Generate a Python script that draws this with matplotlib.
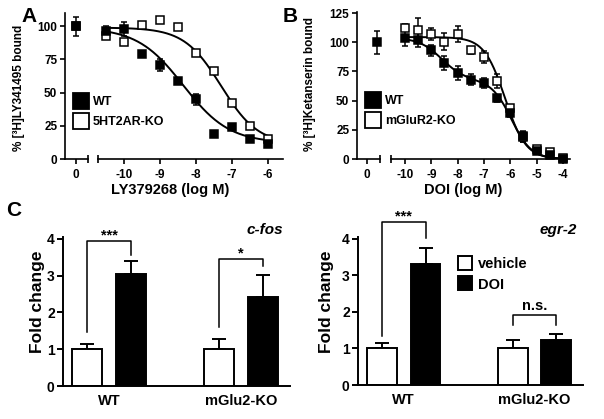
import matplotlib
matplotlib.use("Agg")
import matplotlib.pyplot as plt
from matplotlib.lines import Line2D
import numpy as np

plt.rcParams["font.family"] = ["Liberation Sans", "DejaVu Sans"]
plt.rcParams["font.weight"] = "bold"
plt.rcParams["axes.labelweight"] = "bold"
plt.rcParams["axes.unicode_minus"] = False
plt.rcParams["axes.linewidth"] = 1.2

# ---- panel A: LY379268 displacement of [3H]LY341495 ----
a_logc = [-10.5, -10, -9.5, -9, -8.5, -8, -7.5, -7, -6.5, -6]
a_wt = [96.5, 98, 79, 71, 58.5, 45, 19, 24, 15, 11]
a_wt_err = [4, 5, 0, 4.5, 0, 4, 0, 0, 0, 0]
a_ko = [93, 88, 101, 104.5, 99.5, 80, 66, 42, 25, 15]
a_zero_wt, a_zero_wt_err = 100, 7.3
a_zero_ko = 100
# 4-parameter fits: top, bottom, logIC50, hill
a_fit_wt = (99, 12, -8.35, 0.68)
a_fit_ko = (99, 11, -7.3, 0.85)

# ---- panel B: DOI displacement of [3H]Ketanserin ----
b_logc = [-10, -9.5, -9, -8.5, -8, -7.5, -7, -6.5, -6, -5.5, -5, -4.5, -4]
b_wt = [103.6, 101.6, 93, 82, 74, 68, 65, 52, 39.4, 19.4, 6.6, 3.4, 0]
b_wt_err = [7, 6, 5, 6, 6, 5, 4, 3, 3, 5, 2, 2, 2]
b_ko = [112.7, 110.7, 107, 100.7, 107, 93, 87.3, 66.5, 43.7, 18.8, 8.6, 5.7, 0.6]
b_ko_err = [3, 10, 5, 7, 7, 3, 5, 6, 3, 4, 2, 2, 2]
b_zero_wt, b_zero_wt_err = 100, 10
# KO: one-site fit; WT: two-site fit (top, bottom, frac_high, logIC_high, logIC_low, hill_low)
b_fit_ko = (104.5, 0, -6.2, 1.1)
b_fit_wt = (104, 0, 0.35, -8.6, -5.95, 1.15)

# ---- panel C: fold change ----
groups = ["WT", "mGlu2-KO"]
cfos_veh = [1.0, 1.0]
cfos_veh_err = [0.15, 0.28]
cfos_doi = [3.05, 2.42]
cfos_doi_err = [0.35, 0.6]
cfos_sig = ["***", "*"]
cfos_brk = [(1.48, 3.94, 3.57), (1.6, 3.45, 3.25)]

egr_veh = [1.0, 1.02]
egr_veh_err = [0.14, 0.2]
egr_doi = [3.3, 1.24]
egr_doi_err = [0.46, 0.16]
egr_sig = ["***", "n.s."]
egr_brk = [(1.33, 4.46, 4.03), (1.65, 1.92, 1.65)]

W, H = 604, 419
fig = plt.figure(figsize=(W / 100, H / 100), dpi=100)


def px_axes(x0, y0, x1, y1):
    return fig.add_axes([x0 / W, 1 - y1 / H, (x1 - x0) / W, (y1 - y0) / H])


def four_pl(x, top, bottom, logic, hill):
    return bottom + (top - bottom) / (1 + 10 ** ((x - logic) * hill))


def two_site(x, top, bottom, frac, ic1, ic2, hill2):
    s1 = frac / (1 + 10 ** (x - ic1))
    s2 = (1 - frac) / (1 + 10 ** ((x - ic2) * hill2))
    return bottom + (top - bottom) * (s1 + s2)


def style_ax(ax, left=True):
    for s in ["top", "right"]:
        ax.spines[s].set_visible(False)
    if not left:
        ax.spines["left"].set_visible(False)
        ax.tick_params(axis="y", left=False, labelleft=False)
    ax.tick_params(direction="out", width=1.2, length=3.5, labelsize=8.5, pad=2)
    ax.tick_params(axis="x", pad=4)


def end_bar(ax, xpos):
    ax.plot([xpos], [0], marker="|", ms=6, mew=1.2, color="black",
            transform=ax.get_xaxis_transform(), clip_on=False)


mk = dict(marker="s", ms=5.5, ls="none", color="black", mec="black", mew=1.1,
          capsize=2.5, elinewidth=1.1, capthick=1.1, clip_on=False, zorder=3)

# panel A
axa0 = px_axes(65, 13, 88, 159)
axa = px_axes(98, 13, 283, 159)
for ax in (axa0, axa):
    ax.set_ylim(0, 110)
style_ax(axa0)
style_ax(axa, left=False)
axa0.set_xlim(-1, 1.1)
axa0.set_xticks([0])
axa0.set_yticks([0, 25, 50, 75, 100])
end_bar(axa0, 1.1)
axa0.errorbar([0], [a_zero_ko], mfc="white", **mk)
axa0.errorbar([0], [a_zero_wt], yerr=[a_zero_wt_err], mfc="black", **mk)
axa.set_xlim(-10.72, -5.58)
axa.set_xticks([-10, -9, -8, -7, -6])
end_bar(axa, -10.72)
xa = np.linspace(-10.5, -6, 200)
axa.plot(xa, four_pl(xa, *a_fit_wt), color="black", lw=1.4)
axa.plot(xa, four_pl(xa, *a_fit_ko), color="black", lw=1.4)
axa.errorbar(a_logc, a_ko, mfc="white", **mk)
axa.errorbar(a_logc, a_wt, yerr=a_wt_err, mfc="black", **mk)

# panel B
axb0 = px_axes(357, 12, 380, 159)
axb = px_axes(391, 12, 570, 159)
for ax in (axb0, axb):
    ax.set_ylim(0, 126)
style_ax(axb0)
style_ax(axb, left=False)
axb0.set_xlim(-1, 1.3)
axb0.set_xticks([0])
axb0.set_yticks([0, 25, 50, 75, 100, 125])
end_bar(axb0, 1.3)
axb0.errorbar([1.0], [b_zero_wt], yerr=[b_zero_wt_err], mfc="black", **mk)
axb.set_xlim(-10.53, -3.73)
axb.set_xticks([-10, -9, -8, -7, -6, -5, -4])
end_bar(axb, -10.53)
xb = np.linspace(-10, -4, 200)
axb.plot(xb, two_site(xb, *b_fit_wt), color="black", lw=1.4)
axb.plot(xb, four_pl(xb, *b_fit_ko), color="black", lw=1.4)
axb.errorbar(b_logc, b_ko, yerr=b_ko_err, mfc="white", **mk)
axb.errorbar(b_logc, b_wt, yerr=b_wt_err, mfc="black", **mk)

fig.text(19 / W, 1 - 88 / H, "% [³H]LY341495 bound", rotation=90,
         ha="center", va="center", fontsize=8.5)
fig.text(310 / W, 1 - 84 / H, "% [³H]Ketanserin bound", rotation=90,
         ha="center", va="center", fontsize=8.5)
fig.text(170 / W, 1 - 190 / H, "LY379268 (log M)", ha="center", va="center", fontsize=10.5)
fig.text(463 / W, 1 - 190 / H, "DOI (log M)", ha="center", va="center", fontsize=10.5)

h_wt = Line2D([], [], marker="s", ls="none", ms=11, mfc="black", mec="black", mew=1.3)
h_ko = Line2D([], [], marker="s", ls="none", ms=11, mfc="white", mec="black", mew=1.3)
leg_kw = dict(frameon=False, loc="upper left", fontsize=9, handlelength=1.1,
              handletextpad=0.4, labelspacing=0.65, borderpad=0, borderaxespad=0)
fig.legend([h_wt, h_ko], ["WT", "5HT2AR-KO"], bbox_to_anchor=(74 / W, 1 - 96 / H), **leg_kw)
fig.legend([h_wt, h_ko], ["WT", "mGluR2-KO"], bbox_to_anchor=(366 / W, 1 - 95 / H), **leg_kw)

for lab, x, y in [("A", 29, 16), ("B", 290, 17), ("C", 14, 210)]:
    fig.text(x / W, 1 - y / H, lab, ha="center", va="center", fontsize=15)


# panel C
def bar_panel(ax, veh, veh_err, doi, doi_err, sig, brk, gene, gx, lab_x):
    x = np.arange(len(groups))
    off, bw = 0.166, 0.229
    ax.bar(x - off, veh, bw, color="white", edgecolor="black", lw=1.4, zorder=2)
    ax.bar(x + off, doi, bw, color="black", edgecolor="black", lw=1.4, zorder=2)
    ax.errorbar(x - off, veh, yerr=[np.zeros(len(veh)), veh_err], fmt="none",
                ecolor="black", elinewidth=1.4, capsize=5, capthick=1.4, zorder=1)
    ax.errorbar(x + off, doi, yerr=[np.zeros(len(doi)), doi_err], fmt="none",
                ecolor="black", elinewidth=1.4, capsize=5, capthick=1.4, zorder=1)
    for i, (lab, (y1, ytop, y2)) in enumerate(zip(sig, brk)):
        ax.plot([i - off, i - off, i + off, i + off], [y1, ytop, ytop, y2],
                color="black", lw=1.1, clip_on=False)
        dy = 0.05 if "*" in lab else 0.12
        ax.text(i, ytop + dy, lab, ha="center", va="baseline", fontsize=10.5)
    ax.set_xlim(-0.35, 1.37)
    ax.set_ylim(0, 4.05)
    ax.set_yticks([0, 1, 2, 3, 4])
    ax.set_xticks(x)
    ax.set_xticklabels(groups)
    for s in ["top", "right"]:
        ax.spines[s].set_visible(False)
    ax.spines["left"].set_linewidth(1.4)
    ax.spines["bottom"].set_linewidth(1.4)
    ax.tick_params(axis="y", direction="out", width=1.4, length=4, labelsize=10, pad=2)
    ax.tick_params(axis="x", length=0, labelsize=10.5, pad=6)
    ax.text(gx, 4.25, gene, transform=ax.get_yaxis_transform(), ha="right", va="center",
            fontsize=11, style="italic")
    ax.set_ylabel("Fold change", fontsize=12.5)
    ax.yaxis.set_label_coords(lab_x, 0.565)


axc1 = px_axes(63, 237, 290, 386)
bar_panel(axc1, cfos_veh, cfos_veh_err, cfos_doi, cfos_doi_err, cfos_sig, cfos_brk,
          "c-fos", 0.97, -0.08)
axc2 = px_axes(358, 237, 583, 385)
bar_panel(axc2, egr_veh, egr_veh_err, egr_doi, egr_doi_err, egr_sig, egr_brk,
          "egr-2", 0.975, -0.105)

h_veh = Line2D([], [], marker="s", ls="none", ms=10.5, mfc="white", mec="black", mew=1.4)
h_doi = Line2D([], [], marker="s", ls="none", ms=10.5, mfc="black", mec="black", mew=1.4)
fig.legend([h_veh, h_doi], ["vehicle", "DOI"], frameon=False, loc="upper left",
           bbox_to_anchor=(458 / W, 1 - 257 / H), fontsize=10.5, handlelength=1.0,
           handletextpad=0.35, labelspacing=0.45, borderpad=0, borderaxespad=0)

fig.savefig("out.png", dpi=100)
